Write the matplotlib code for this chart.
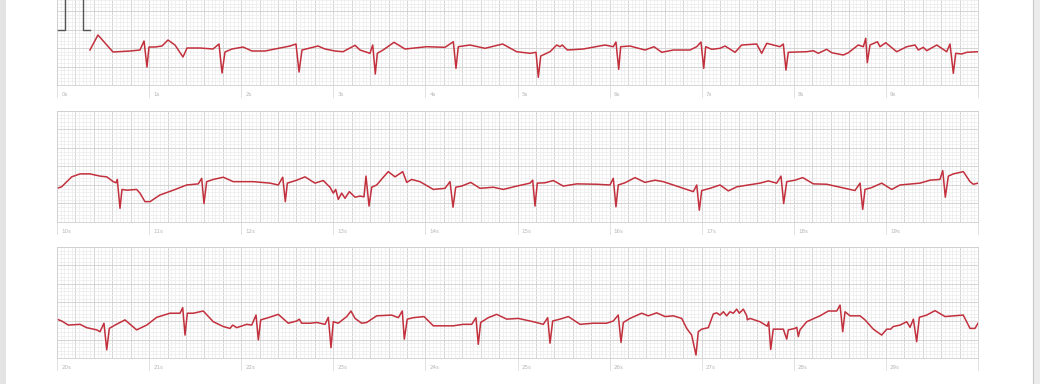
import numpy as np
import matplotlib
matplotlib.use("Agg")
import matplotlib.pyplot as plt
import matplotlib.transforms as mtransforms

# ECG trace: time in s, amplitude in mV (0 = middle of strip)
strip1_t = [0.358,0.445,0.608,0.793,0.901,0.945,0.977,0.999,1.064,1.140,
            1.205,1.281,1.368,1.412,1.553,1.694,1.759,1.792,1.824,1.900,
            2.020,2.117,2.258,2.421,2.530,2.595,2.628,2.660,2.747,2.834,
            2.910,3.018,3.105,3.236,3.290,3.398,3.428,3.456,3.478,3.540,
            3.659,3.779,4.014,4.213,4.303,4.332,4.357,4.484,4.647,4.839,
            4.991,5.136,5.201,5.226,5.252,5.353,5.426,5.461,5.486,5.541,
            5.714,5.950,6.040,6.069,6.099,6.120,6.221,6.384,6.482,6.566,
            6.692,6.873,6.946,6.992,7.022,7.043,7.109,7.199,7.253,7.362,
            7.434,7.597,7.651,7.706,7.850,7.886,7.915,7.940,8.140,8.212,
            8.266,8.357,8.412,8.537,8.592,8.700,8.755,8.781,8.798,8.827,
            8.907,8.936,8.998,9.117,9.226,9.316,9.352,9.406,9.443,9.552,
            9.660,9.696,9.732,9.758,9.823,9.877,10.0]
strip1_mv = [-0.554,-0.149,-0.608,-0.581,-0.554,-0.311,-1.014,-0.473,-0.473,-0.446,
             -0.284,-0.419,-0.743,-0.5,-0.5,-0.527,-0.392,-1.176,-0.608,-0.527,
             -0.473,-0.581,-0.581,-0.5,-0.446,-0.392,-1.149,-0.554,-0.5,-0.446,
             -0.527,-0.581,-0.6,-0.427,-0.554,-0.643,-0.419,-1.203,-0.643,-0.554,
             -0.346,-0.527,-0.465,-0.481,-0.330,-1.049,-0.465,-0.419,-0.508,-0.392,
             -0.6,-0.643,-0.616,-1.292,-0.716,-0.6,-0.419,-0.465,-0.419,-0.554,
             -0.527,-0.419,-0.465,-0.338,-1.076,-0.465,-0.446,-0.554,-0.465,-0.616,
             -0.554,-0.554,-0.465,-0.338,-1.049,-0.465,-0.535,-0.508,-0.446,-0.616,
             -0.419,-0.392,-0.643,-0.373,-0.465,-0.392,-1.095,-0.616,-0.6,-0.573,
             -0.643,-0.535,-0.627,-0.689,-0.627,-0.419,-0.465,-0.238,-0.897,-0.419,
             -0.330,-0.465,-0.357,-0.6,-0.465,-0.419,-0.554,-0.481,-0.573,-0.419,
             -0.6,-0.392,-1.184,-0.643,-0.662,-0.616,-0.6]

strip2_t = [10.00,10.05,10.16,10.25,10.358,10.467,10.54,10.611,10.641,10.655,
            10.684,10.706,10.757,10.865,10.901,10.955,11.01,11.118,11.263,11.408,
            11.534,11.571,11.596,11.625,11.697,11.806,11.914,12.131,12.313,12.403,
            12.451,12.479,12.501,12.603,12.693,12.801,12.891,12.964,13.0,13.026,
            13.054,13.091,13.127,13.174,13.236,13.29,13.333,13.355,13.388,13.417,
            13.471,13.543,13.597,13.67,13.754,13.797,13.851,13.941,14.086,14.213,
            14.267,14.3,14.329,14.394,14.492,14.593,14.737,14.846,14.991,15.136,
            15.165,15.19,15.215,15.299,15.389,15.497,15.643,15.86,16.004,16.04,
            16.069,16.094,16.167,16.276,16.384,16.493,16.583,16.692,16.764,16.909,
            16.946,16.974,17.0,17.09,17.199,17.289,17.38,17.633,17.723,17.814,
            17.861,17.89,17.923,18.013,18.097,18.212,18.357,18.502,18.664,18.719,
            18.748,18.773,18.846,18.954,19.063,19.153,19.37,19.479,19.587,19.617,
            19.645,19.678,19.732,19.841,19.913,19.949,20.0]
strip2_mv = [-0.59,-0.55,-0.28,-0.20,-0.20,-0.26,-0.28,-0.41,-0.44,-0.35,
             -1.13,-0.62,-0.64,-0.62,-0.72,-0.95,-0.95,-0.77,-0.64,-0.50,
             -0.47,-0.32,-1.00,-0.41,-0.35,-0.29,-0.41,-0.41,-0.45,-0.50,
             -0.29,-0.95,-0.45,-0.37,-0.28,-0.45,-0.38,-0.56,-0.72,-0.62,
             -0.89,-0.72,-0.86,-0.68,-0.83,-0.80,-0.82,-0.26,-1.07,-0.56,
             -0.50,-0.29,-0.14,-0.28,-0.14,-0.43,-0.35,-0.41,-0.62,-0.59,
             -0.41,-1.10,-0.56,-0.53,-0.43,-0.59,-0.56,-0.62,-0.53,-0.45,
             -0.37,-1.07,-0.45,-0.44,-0.38,-0.53,-0.47,-0.48,-0.50,-0.32,
             -1.09,-0.50,-0.44,-0.30,-0.43,-0.37,-0.41,-0.50,-0.56,-0.68,
             -0.50,-1.18,-0.65,-0.59,-0.50,-0.66,-0.55,-0.45,-0.39,-0.45,
             -0.26,-1.00,-0.41,-0.37,-0.30,-0.47,-0.48,-0.56,-0.65,-0.45,
             -1.16,-0.62,-0.57,-0.45,-0.62,-0.50,-0.45,-0.37,-0.35,-0.11,
             -0.83,-0.26,-0.20,-0.14,-0.41,-0.48,-0.45]

strip3_t = [20.0,20.051,20.123,20.25,20.322,20.431,20.467,20.51,20.54,20.568,
            20.63,20.738,20.865,20.974,21.083,21.227,21.336,21.365,21.39,21.415,
            21.48,21.588,21.697,21.806,21.878,21.908,21.951,22.06,22.114,22.161,
            22.186,22.212,22.294,22.403,22.511,22.603,22.631,22.657,22.747,22.82,
            22.91,22.946,22.975,23.0,23.054,23.146,23.192,23.236,23.308,23.363,
            23.471,23.634,23.706,23.749,23.771,23.803,23.869,23.985,24.086,24.303,
            24.411,24.503,24.549,24.574,24.6,24.683,24.774,24.883,25.009,25.172,
            25.28,25.328,25.353,25.382,25.461,25.552,25.679,25.823,25.968,26.04,
            26.094,26.124,26.149,26.221,26.348,26.42,26.511,26.602,26.692,26.783,
            26.837,26.891,26.938,26.963,27.0,27.072,27.126,27.163,27.199,27.235,
            27.271,27.307,27.343,27.38,27.408,27.452,27.489,27.495,27.524,27.633,
            27.712,27.727,27.749,27.777,27.886,27.904,27.923,27.94,28.013,28.032,
            28.049,28.067,28.14,28.284,28.375,28.466,28.502,28.531,28.556,28.61,
            28.719,28.773,28.863,28.954,29.009,29.052,29.08,29.153,29.226,29.262,
            29.298,29.334,29.363,29.443,29.533,29.642,29.84,29.913,29.967,30.0]
strip3_mv = [-0.45,-0.50,-0.61,-0.59,-0.68,-0.74,-0.79,-0.56,-1.28,-0.70,
             -0.61,-0.47,-0.74,-0.61,-0.40,-0.29,-0.29,-0.14,-0.88,-0.29,
             -0.29,-0.23,-0.52,-0.65,-0.70,-0.61,-0.68,-0.59,-0.61,-0.34,
             -1.01,-0.47,-0.41,-0.32,-0.56,-0.50,-0.45,-0.56,-0.56,-0.54,
             -0.59,-0.40,-1.22,-0.52,-0.56,-0.38,-0.23,-0.43,-0.56,-0.54,
             -0.36,-0.34,-0.41,-0.23,-0.99,-0.45,-0.41,-0.38,-0.63,-0.63,
             -0.59,-0.59,-0.41,-1.13,-0.54,-0.41,-0.32,-0.45,-0.43,-0.52,
             -0.59,-0.41,-1.10,-0.50,-0.45,-0.38,-0.59,-0.56,-0.56,-0.50,
             -0.34,-1.08,-0.54,-0.43,-0.29,-0.36,-0.28,-0.38,-0.36,-0.43,
             -0.70,-0.88,-1.42,-0.79,-0.72,-0.68,-0.31,-0.28,-0.34,-0.25,
             -0.36,-0.25,-0.29,-0.18,-0.29,-0.18,-0.36,-0.47,-0.43,-0.52,
             -0.64,-0.52,-1.27,-0.72,-0.72,-0.85,-0.99,-0.74,-0.70,-0.67,
             -0.92,-0.74,-0.52,-0.36,-0.23,-0.23,-0.07,-0.79,-0.25,-0.36,
             -0.36,-0.47,-0.72,-0.88,-0.72,-0.72,-0.65,-0.61,-0.52,-0.67,
             -0.45,-1.06,-0.40,-0.34,-0.22,-0.38,-0.34,-0.70,-0.70,-0.56]

# 1 mV calibration pulse at the start of the first strip
cal_t = [0.0, 0.087, 0.087, 0.282, 0.282, 0.358]
cal_mv = [0.0, 0.0, 1.0, 1.0, 0.0, 0.0]

strips = [(strip1_t, strip1_mv), (strip2_t, strip2_mv), (strip3_t, strip3_mv)]
# bottom edge of each strip in figure fraction
bottoms = [0.7786, 0.4219, 0.0677]

ecg_red = '#c2303d'

fig = plt.figure(figsize=(10.4, 3.84), dpi=100)
fig.patch.set_facecolor('white')

# page edges of the screenshot
fig.patches.append(plt.Rectangle((0, 0), 0.006, 1, transform=fig.transFigure,
                                 facecolor='#e4e4e4', edgecolor='none'))
fig.patches.append(plt.Rectangle((0.9935, 0), 0.0065, 1, transform=fig.transFigure,
                                 facecolor='#ececec', edgecolor='none'))
fig.lines.append(plt.Line2D([0.9935, 0.9935], [0, 1], transform=fig.transFigure,
                            color='#c8c8c8', lw=0.8))

for k, (t, mv) in enumerate(strips):
    ax = fig.add_axes([0.0548, bottoms[k], 0.8856, 0.2891])
    t0 = 10 * k
    ax.set_xlim(t0, t0 + 10)
    ax.set_ylim(-1.5, 1.5)

    ax.set_xticks(np.arange(t0, t0 + 10.001, 0.2))
    ax.set_xticks(np.arange(t0, t0 + 10.001, 0.04), minor=True)
    ax.set_yticks(np.arange(-1.5, 1.501, 0.5))
    ax.set_yticks(np.arange(-1.5, 1.501, 0.1), minor=True)
    ax.grid(which='minor', color='#ebebeb', lw=0.5)
    ax.grid(which='major', color='#cfcfcf', lw=0.6)
    ax.set_axisbelow(True)
    ax.tick_params(which='both', length=0, labelbottom=False, labelleft=False)
    for sp in ax.spines.values():
        sp.set_color('#d0d0d0')
        sp.set_linewidth(0.6)

    # second markers under the strip
    trans = mtransforms.blended_transform_factory(ax.transData, ax.transAxes)
    for s in range(t0, t0 + 11):
        ax.plot([s, s], [0, -0.11], transform=trans, color='#dcdcdc', lw=0.6,
                clip_on=False)
        if s < t0 + 10:
            ax.annotate(f"{s}s", xy=(s, 0), xycoords=trans, xytext=(3, -7),
                        textcoords='offset points', fontsize=4, color='#b5b5b5',
                        ha='left', va='center')

    if k == 0:
        ax.plot(cal_t, cal_mv, color='#555555', lw=1.0)
    ax.plot(t, mv, color=ecg_red, lw=1.1, solid_joinstyle='round')

fig.savefig('out.png', dpi=100, facecolor='white')
